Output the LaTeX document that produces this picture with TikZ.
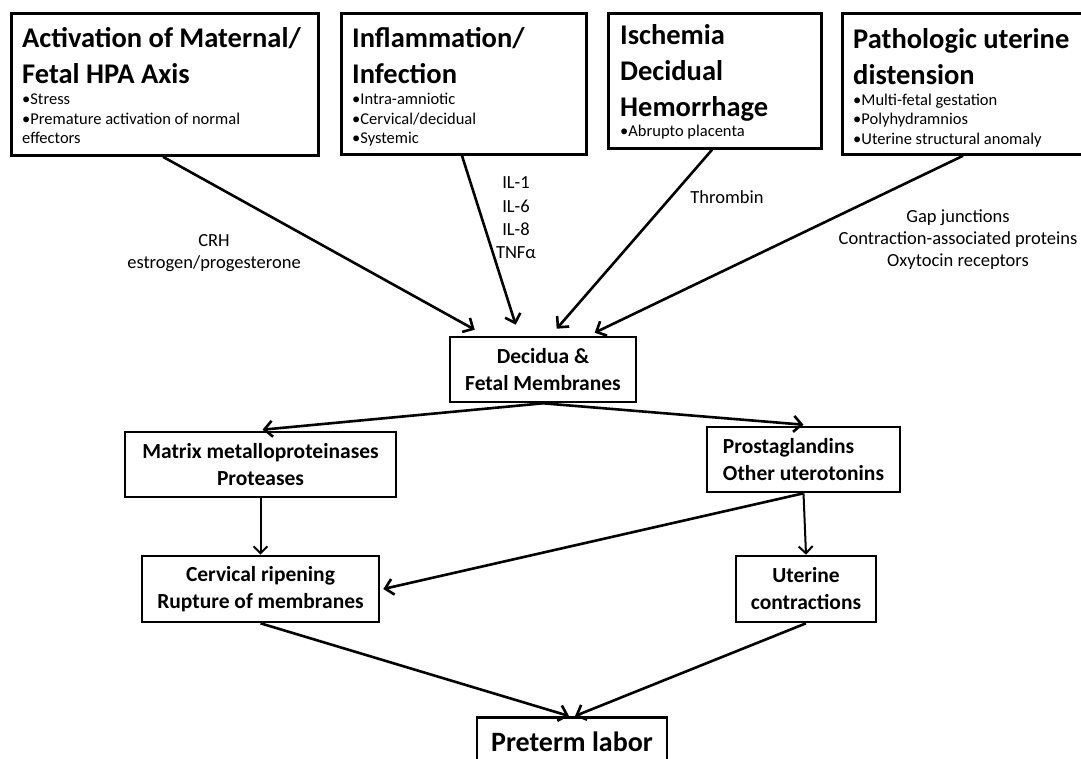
\documentclass[tikz,border=0pt]{standalone}
\usepackage{fontspec}
\setmainfont{Carlito}
\usetikzlibrary{arrows.meta}
\tikzset{
  box/.style={draw=black, line width=2.8pt, rectangle, inner sep=0pt, fill=white},
  midbox/.style={draw=black, line width=2.6pt, rectangle, inner sep=0pt, align=center,
    font=\fontsize{21.5}{27}\selectfont\bfseries},
  boxtext/.style={inner sep=0pt, anchor=base west},
  lbl/.style={inner sep=0pt, align=center, font=\fontsize{18.5}{22}\selectfont},
  arr/.style={line width=2.6pt, -{Straight Barb[length=8pt,width=16pt]}},
  thinarr/.style={line width=2pt, -{Straight Barb[length=7pt,width=14pt]}}
}
\newcommand{\ttl}{\fontsize{28.5}{36}\selectfont\bfseries}
\newcommand{\bul}{\fontsize{16.5}{19.5}\selectfont\mdseries}
\begin{document}
\begin{tikzpicture}[x=1pt,y=-1pt]
\useasboundingbox[fill=white] (0,0) rectangle (1081,759);

% top boxes
\node[box, anchor=north west, minimum width=307pt, minimum height=142pt] (b1) at (10,12) {};
\node[box, anchor=north west, minimum width=245pt, minimum height=141pt] (b2) at (340,12) {};
\node[box, anchor=north west, minimum width=213pt, minimum height=135pt] (b3) at (607,12) {};
\node[box, anchor=north west, minimum width=250pt, minimum height=141pt] (b4) at (841,12) {};

\node[boxtext] (t1) at (22,48) {\parbox[t]{295pt}{\raggedright\ttl Activation of Maternal/\\Fetal HPA Axis\par\bul\vspace{1.5pt}•Stress\\•Premature activation of normal\\effectors\par}};
\node[boxtext] (t2) at (352,48) {\parbox[t]{230pt}{\raggedright\ttl Inflammation/\\Infection\par\bul\vspace{1.5pt}•Intra-amniotic\\•Cervical/decidual\\•Systemic\par}};
\node[boxtext] (t3) at (620,45) {\parbox[t]{200pt}{\raggedright\ttl Ischemia\\Decidual\\Hemorrhage\par\bul •Abrupto placenta\par}};
\node[boxtext] (t4) at (853,49) {\parbox[t]{230pt}{\raggedright\ttl Pathologic uterine\\distension\par\bul\vspace{1pt}•Multi-fetal gestation\\•Polyhydramnios\\•Uterine structural anomaly\par}};

% middle boxes
\node[midbox, minimum width=186pt, minimum height=65pt] (dec) at (543,369.5) {Decidua \&\\Fetal Membranes};
\node[midbox, minimum width=271pt, minimum height=65pt] (mmp) at (260.5,464.5) {Matrix metalloproteinases\\Proteases};
\node[midbox, align=left, minimum width=193pt, minimum height=65pt] (pg) at (803.5,459.5) {Prostaglandins\\Other uterotonins};
\node[midbox, minimum width=237pt, minimum height=66pt] (cerv) at (260.5,589) {Cervical ripening\\Rupture of membranes};
\node[midbox, minimum width=140pt, minimum height=66pt] (ut) at (806,589) {Uterine\\contractions};
\node[box, line width=2.6pt, anchor=north, minimum width=190pt, minimum height=60pt] (pre) at (572,716) {};
\node[inner sep=0pt, font=\fontsize{28}{35}\selectfont\bfseries, anchor=base] (pret) at (572,751) {Preterm labor};

% labels
\node[lbl] (l1) at (214,253) {CRH\\estrogen/progesterone};
\node[lbl, font=\fontsize{18.5}{23.3}\selectfont] (l2) at (516,218) {IL-1\\IL-6\\IL-8\\TNFα};
\node[lbl] (l3) at (727,197) {Thrombin};
\node[lbl] (l4) at (958,240) {Gap junctions\\Contraction-associated proteins\\Oxytocin receptors};

% top arrows
\draw[arr] ([shift={(153,0)}]b1.south west) -- ([shift={(26,-6)}]dec.north west);
\draw[arr] ([shift={(122,0)}]b2.south west) -- ([shift={(67,-11)}]dec.north west);
\draw[arr] ([shift={(105,0)}]b3.south west) -- ([shift={(108,-7)}]dec.north west);
\draw[arr] ([shift={(122,0)}]b4.south west) -- ([shift={(146,-3)}]dec.north west);

% lower arrows
\draw[arr] (dec.south) -- ([shift={(2,-1)}]mmp.north);
\draw[arr] (dec.south) -- ([shift={(0,-1)}]pg.north);
\draw[thinarr] (mmp.south) -- (cerv.north);
\draw[thinarr] (pg.south) -- (ut.north);
\draw[arr] (pg.south) -- ([shift={(3,0)}]cerv.east);
\draw[arr] (cerv.south) -- ([shift={(-3,0)}]pre.north);
\draw[arr] (ut.south) -- ([shift={(3,0)}]pre.north);
\end{tikzpicture}
\end{document}
